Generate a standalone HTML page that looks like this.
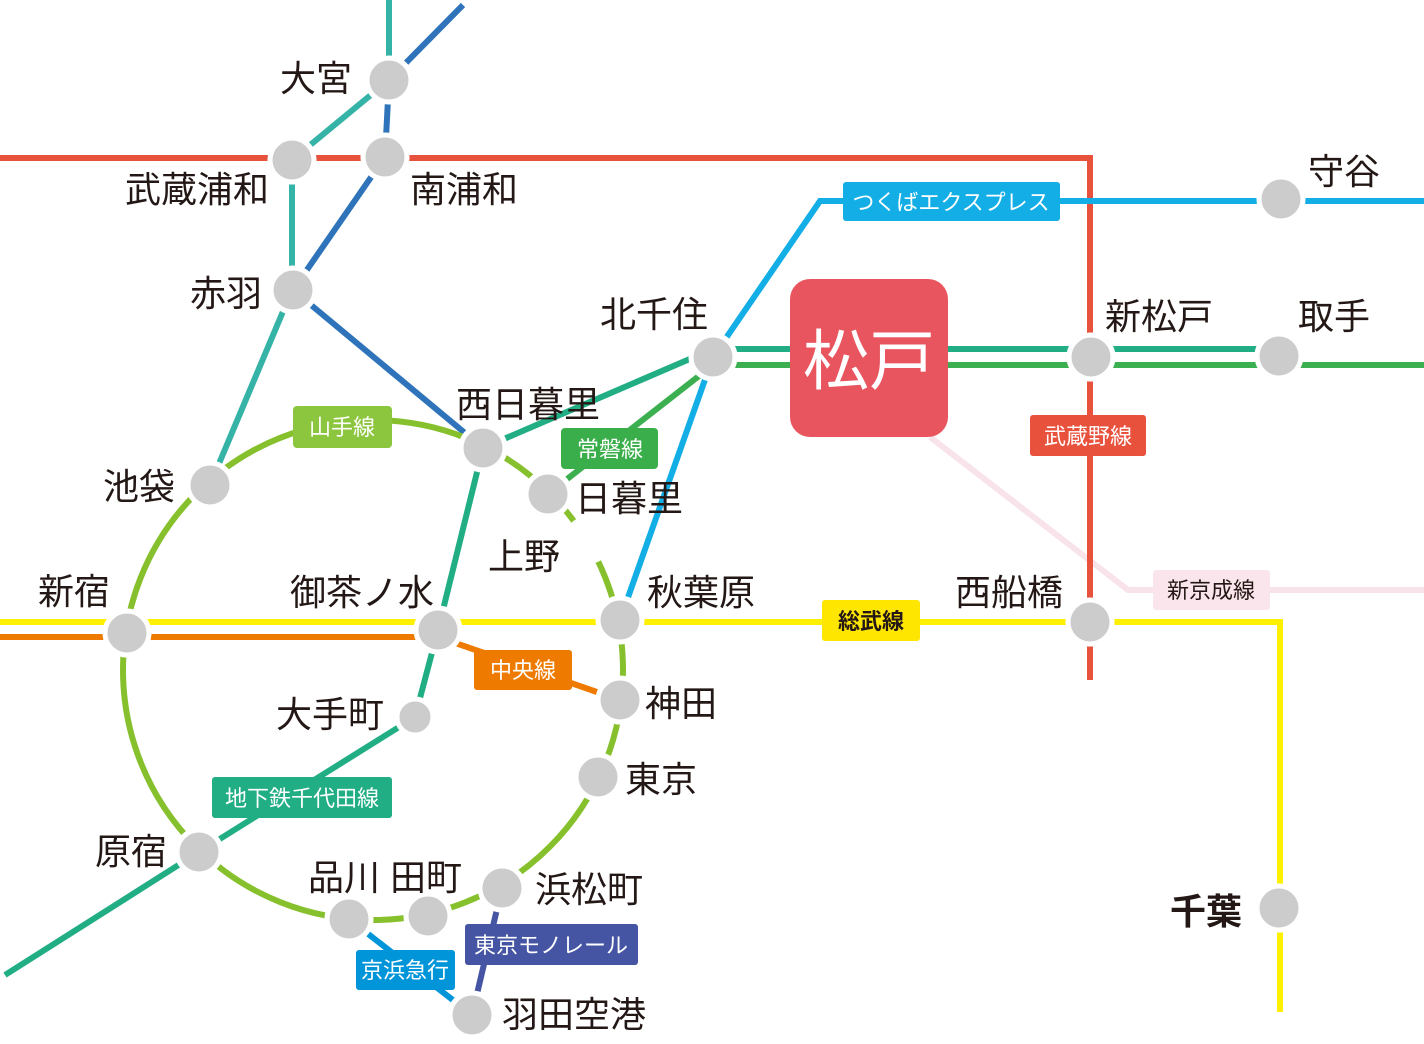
<!DOCTYPE html>
<html><head><meta charset="utf-8"><style>
html,body{margin:0;padding:0;background:#fff;}
svg{display:block;}
.l{font-family:"Liberation Sans","Noto Sans CJK JP",sans-serif;font-size:36px;fill:#231815;}
.b{font-family:"Liberation Sans","Noto Sans CJK JP",sans-serif;font-size:22px;fill:#fff;}
.s{fill:#cccccc;stroke:#fff;stroke-width:5;}
</style></head><body>
<svg width="1424" height="1044" viewBox="0 0 1424 1044" xmlns="http://www.w3.org/2000/svg">
<g fill="none" stroke-width="6">
<polyline points="930,437 1128,590 1424,590" stroke="#f9e3ea"/>
<polyline points="0,158 1090,158 1090,680" stroke="#e8523d"/>
<polyline points="389,0 389,80 292,160 292,290 210,485" stroke="#36b3a7"/>
<polyline points="463,5 389,80 385,157 293,290 483,448" stroke="#2f74ba"/>
<circle cx="373" cy="670" r="250" stroke="#86c12d"/>
<polyline points="0,622 1280,622 1280,1012" stroke="#fff000"/>
<polyline points="0,637 438,637 620,700" stroke="#ee7b00"/>
<polyline points="620,620 713,357 820,201 1424,201" stroke="#13aee6"/>
<polyline points="1278,349 713,349 483,448 438,630 415,717 199,852 5,975" stroke="#22ae84"/>
<polyline points="1424,365 713,365 548,494" stroke="#3cb051"/>
<line x1="502" y1="888" x2="472" y2="1015" stroke="#4555a3"/>
<line x1="349" y1="919" x2="472" y2="1015" stroke="#0095d9"/>
</g>
<circle cx="588" cy="540" r="24" fill="#fff"/>
<circle class="s" cx="389" cy="80" r="22"/>
<circle class="s" cx="292" cy="160" r="22"/>
<circle class="s" cx="385" cy="157" r="22"/>
<circle class="s" cx="293" cy="290" r="22"/>
<circle class="s" cx="713" cy="357" r="22"/>
<circle class="s" cx="1091" cy="357" r="22"/>
<circle class="s" cx="1279" cy="356" r="22"/>
<circle class="s" cx="1281" cy="199" r="22"/>
<circle class="s" cx="483" cy="448" r="22"/>
<circle class="s" cx="548" cy="494" r="22"/>
<circle class="s" cx="210" cy="485" r="22"/>
<circle class="s" cx="127" cy="633" r="22"/>
<circle class="s" cx="438" cy="630" r="22"/>
<circle class="s" cx="620" cy="620" r="22"/>
<circle class="s" cx="1090" cy="622" r="22"/>
<circle class="s" cx="620" cy="700" r="22"/>
<circle class="s" cx="415" cy="717" r="18"/>
<circle class="s" cx="598" cy="777" r="22"/>
<circle class="s" cx="199" cy="852" r="22"/>
<circle class="s" cx="349" cy="919" r="22"/>
<circle class="s" cx="428" cy="916" r="22"/>
<circle class="s" cx="502" cy="888" r="22"/>
<circle class="s" cx="472" cy="1015" r="22"/>
<circle class="s" cx="1279" cy="908" r="22"/>
<rect x="790" y="279" width="158" height="158" rx="20" fill="#e9555f"/>
<text x="869" y="384" text-anchor="middle" font-family="Liberation Sans,Noto Sans CJK JP,sans-serif" font-size="66" fill="#fff">松戸</text>
<rect x="293" y="406" width="99" height="42" rx="4" fill="#8cc63f"/><text class="b" x="342" y="435" text-anchor="middle">山手線</text>
<rect x="561" y="428" width="97" height="41" rx="4" fill="#3aae4a"/><text class="b" x="610" y="457" text-anchor="middle">常磐線</text>
<rect x="1030" y="415" width="116" height="41" rx="3" fill="#e8523d"/><text class="b" x="1088" y="444" text-anchor="middle">武蔵野線</text>
<rect x="822" y="600" width="98" height="41" rx="3" fill="#ffe600"/><text class="b" x="871" y="629" text-anchor="middle" style="fill:#231815;font-weight:bold">総武線</text>
<rect x="474" y="650" width="98" height="40" rx="3" fill="#ee7b00"/><text class="b" x="523" y="678" text-anchor="middle">中央線</text>
<rect x="212" y="777" width="180" height="41" rx="3" fill="#22ae84"/><text class="b" x="302" y="806" text-anchor="middle">地下鉄千代田線</text>
<rect x="356" y="950" width="99" height="40" rx="3" fill="#0095d9"/><text class="b" x="405" y="978" text-anchor="middle">京浜急行</text>
<rect x="465" y="924" width="173" height="41" rx="3" fill="#4555a3"/><text class="b" x="551" y="953" text-anchor="middle">東京モノレール</text>
<rect x="843" y="182" width="217" height="39" rx="3" fill="#13aee6"/><text class="b" x="951" y="210" text-anchor="middle">つくばエクスプレス</text>
<rect x="1153" y="570" width="117" height="40" rx="3" fill="#fbe5ec"/><text class="b" x="1211" y="598" text-anchor="middle" style="fill:#231815">新京成線</text>
<text class="l" x="280" y="91">大宮</text>
<text class="l" x="125" y="202">武蔵浦和</text>
<text class="l" x="410" y="202">南浦和</text>
<text class="l" x="190" y="306">赤羽</text>
<text class="l" x="600" y="327">北千住</text>
<text class="l" x="1105" y="329">新松戸</text>
<text class="l" x="1298" y="329">取手</text>
<text class="l" x="1308" y="184">守谷</text>
<text class="l" x="456" y="417">西日暮里</text>
<text class="l" x="575" y="511">日暮里</text>
<text class="l" x="488" y="569">上野</text>
<text class="l" x="103" y="499">池袋</text>
<text class="l" x="38" y="604">新宿</text>
<text class="l" x="290" y="605">御茶ノ水</text>
<text class="l" x="647" y="605">秋葉原</text>
<text class="l" x="955" y="605">西船橋</text>
<text class="l" x="276" y="727">大手町</text>
<text class="l" x="645" y="716">神田</text>
<text class="l" x="625" y="792">東京</text>
<text class="l" x="95" y="864">原宿</text>
<text class="l" x="308" y="890">品川 田町</text>
<text class="l" x="535" y="902">浜松町</text>
<text class="l" x="502" y="1027">羽田空港</text>
<text class="l" x="1170" y="924" style="font-weight:bold">千葉</text>
</svg>
</body></html>
